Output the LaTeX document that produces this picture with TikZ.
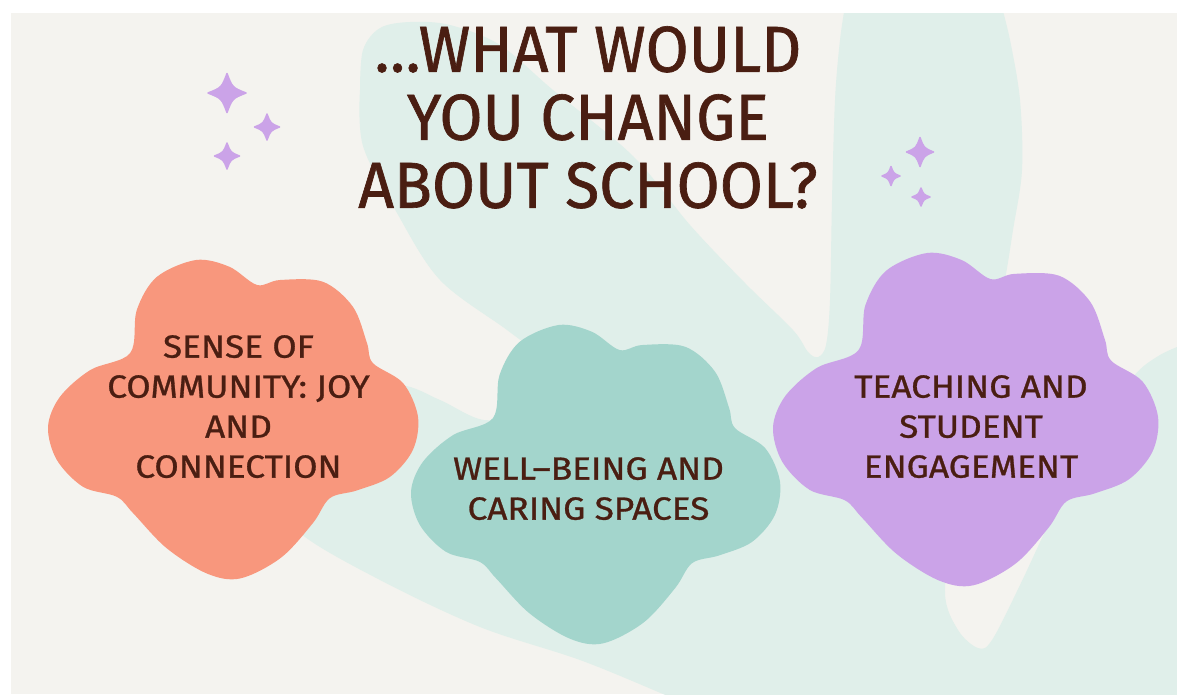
\documentclass[tikz,border=0pt]{standalone}
\usepackage{fontspec}
\setmainfont{Fira Sans}
\newfontfamily\titlefont{Fira Sans}[FakeStretch=0.96, FakeBold=1.0]
\newfontfamily\cloudfont{Fira Sans}[FakeStretch=1.1, FakeBold=0.9]
\definecolor{bgbeige}{HTML}{F4F3EF}
\definecolor{tealbg}{HTML}{E0EFEA}
\definecolor{orangecl}{HTML}{F8977D}
\definecolor{tealcl}{HTML}{A3D5CC}
\definecolor{purplecl}{HTML}{CBA3E8}
\definecolor{txtbrown}{HTML}{4A1E12}
\tikzset{
  titletext/.style={font=\titlefont\fontsize{65}{68}\selectfont, align=center, inner sep=0pt, text=txtbrown, anchor=north},
  cloudtext/.style={font=\cloudfont\fontsize{32}{40}\selectfont, align=center, inner sep=0pt, text=txtbrown, anchor=north},
  sparkfill/.style={fill=purplecl, draw=purplecl, line width=1.5pt, line join=round}
}
\newcommand\cloudblob[5]{%
  \begin{scope}[shift={(#1,#2)},xscale=#3,yscale=#4]
    \fill[#5] plot[smooth cycle,tension=0.55] coordinates {
      (0.222,0.291) (0.24,0.156) (0.294,0.053) (0.40,0) (0.49,0.021) (0.565,0.078)
      (0.627,0.0625) (0.743,0.068) (0.824,0.146) (0.862,0.259) (0.878,0.322)
      (0.96,0.385) (1,0.49) (0.986,0.594) (0.924,0.678) (0.835,0.72) (0.762,0.744)
      (0.716,0.822) (0.63,0.93) (0.52,0.995) (0.43,0.98) (0.32,0.9) (0.23,0.791)
      (0.186,0.74) (0.095,0.709) (0.024,0.625) (0,0.522) (0.032,0.428) (0.114,0.344)};
  \end{scope}}
\newcommand\sparkle[4]{%
  \begin{scope}[shift={(#1,#2)},xscale=#3,yscale=#4]
    \path[sparkfill] (0,-1) .. controls (0.28,-0.28) .. (1,0) .. controls (0.28,0.28) .. (0,1)
      .. controls (-0.28,0.28) .. (-1,0) .. controls (-0.28,-0.28) .. (0,-1) -- cycle;
  \end{scope}}
\begin{document}
\begin{tikzpicture}[x=1pt,y=-1pt]
\useasboundingbox (0,0) rectangle (1177,694);
\fill[white] (0,0) rectangle (1177,694);
\fill[bgbeige] (11,13) rectangle (1177,694);
\begin{scope}
  \clip (11,13) rectangle (1177,694);
  \fill[tealbg]
    plot[smooth,tension=0.55] coordinates {(360,90) (363,50) (380,28) (410,22) (450,25) (500,45)
      (553,90) (633,156) (690,225) (745,283) (793,330) (808,352) (818,357) (826,345) (830,300)
      (832,200) (835,100) (840,40) (846,0)}
    -- (1000,0)
    -- plot[smooth,tension=0.55] coordinates {(1000,0) (1010,40) (1020,100) (1022,170) (1013,230)
      (1003,290) (980,400) (955,520) (945,593) (958,630) (978,648) (992,640) (1020,585)
      (1057,507) (1100,430) (1133,377) (1160,355) (1190,342)}
    -- (1190,710) -- (700,710)
    -- plot[smooth,tension=0.55] coordinates {(700,710) (663,694) (580,660) (480,627) (380,580)
      (300,533) (275,490) (300,430) (340,392) (400,385) (440,400) (484,420) (530,412)
      (565,390) (545,360) (507,330) (440,280) (397,213) (363,146) (360,90)}
    -- cycle;
\end{scope}
% sparkles
\sparkle{227}{93}{19}{19.5}
\sparkle{267}{127}{12.5}{13}
\sparkle{227}{156}{12.5}{13}
\sparkle{920}{152}{13.5}{14.5}
\sparkle{891}{176}{9}{9.5}
\sparkle{921}{197}{9}{9}
% clouds
\cloudblob{48}{260}{370}{320}{orangecl}
\cloudblob{411}{325}{369}{320}{tealcl}
\cloudblob{773}{253}{385}{334}{purplecl}
% texts
\node[titletext] (title) at (588,26) {…WHAT WOULD\\YOU CHANGE\\ABOUT SCHOOL?};
\node[cloudtext] (community) at (238.5,335) {SENSE OF\\COMMUNITY: JOY\\AND\\CONNECTION};
\node[cloudtext] (wellbeing) at (588.5,457) {WELL–BEING AND\\CARING SPACES};
\node[cloudtext] (teaching) at (971,375) {TEACHING AND\\STUDENT\\ENGAGEMENT};
\end{tikzpicture}
\end{document}
